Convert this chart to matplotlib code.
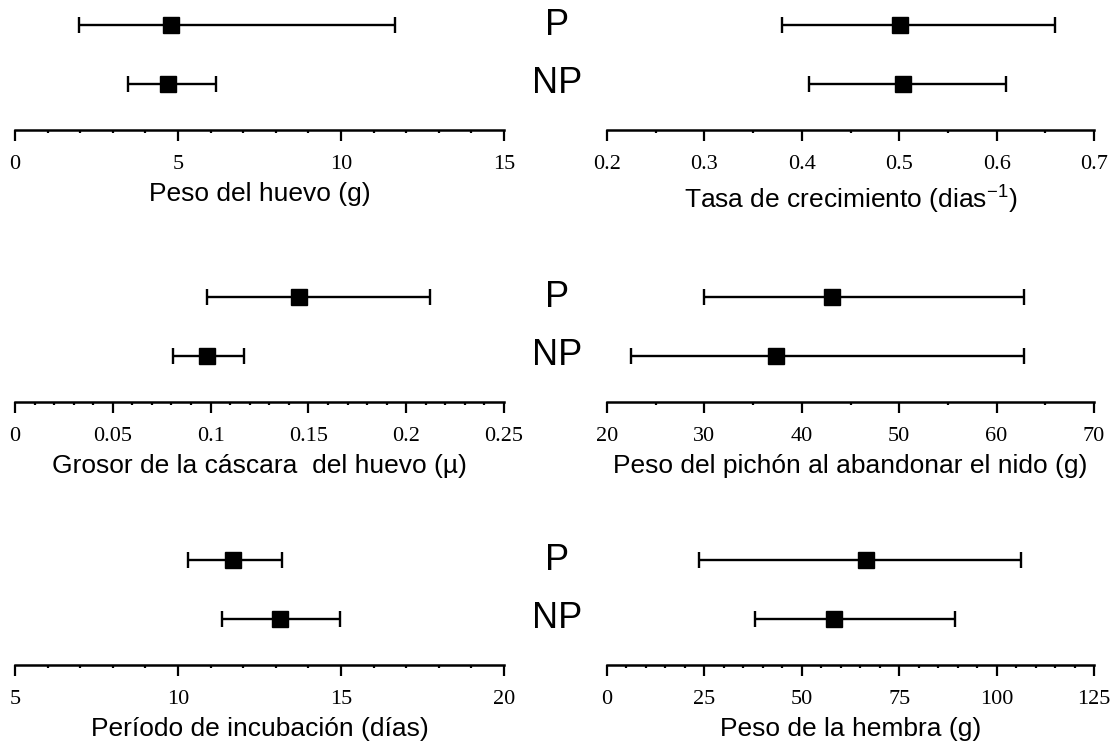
import matplotlib
matplotlib.use('Agg')
import matplotlib.pyplot as plt
from matplotlib.ticker import MultipleLocator, FormatStrFormatter

plt.rcParams['mathtext.fontset'] = 'custom'
plt.rcParams['mathtext.rm'] = 'Liberation Sans'

# panel order: top-left, top-right, mid-left, mid-right, bottom-left, bottom-right
labels = ['Peso del huevo (g)',
          r'Tasa de crecimiento (dias$^{\mathregular{-1}}$)',
          'Grosor de la cáscara  del huevo (µ)',
          'Peso del pichón al abandonar el nido (g)',
          'Período de incubación (días)',
          'Peso de la hembra (g)']
xlims = [(0, 15), (0.2, 0.7), (0, 0.25), (20, 70), (5, 20), (0, 125)]
major = [5, 0.1, 0.05, 10, 5, 25]
minor = [1, 0.05, 0.01, 5, 1, 5]

# P group: mean, lower end, upper end
p_mean = [4.78, 0.501, 0.145, 43.1, 11.70, 66.5]
p_lo = [1.97, 0.380, 0.098, 29.95, 10.31, 23.6]
p_hi = [11.66, 0.660, 0.212, 62.8, 13.18, 106.3]
# NP group
np_mean = [4.69, 0.504, 0.098, 37.4, 13.13, 58.3]
np_lo = [3.46, 0.407, 0.081, 22.5, 11.36, 38.1]
np_hi = [6.17, 0.610, 0.117, 62.8, 14.97, 89.4]

groups = ['P', 'NP']

W, H = 1117, 749
fig = plt.figure(figsize=(W / 100, H / 100), dpi=100)

col_left = [15, 607]
col_width = [489, 487]
row_axis_y = [130, 402, 665]
ax_h = 130

for i in range(6):
    r, c = divmod(i, 2)
    ax = fig.add_axes([col_left[c] / W, 1 - row_axis_y[r] / H,
                       col_width[c] / W, ax_h / H])
    ypos = [1.85, 0.82]
    means = [p_mean[i], np_mean[i]]
    los = [p_lo[i], np_lo[i]]
    his = [p_hi[i], np_hi[i]]
    for y, m, lo, hi in zip(ypos, means, los, his):
        ax.errorbar([m], [y], xerr=[[m - lo], [hi - m]], fmt='s', color='black',
                    ms=12, elinewidth=1.7, capsize=5.5, capthick=1.7, clip_on=False)
    ax.set_xlim(*xlims[i])
    ax.set_ylim(0, 2.3)
    for s in ['top', 'left', 'right']:
        ax.spines[s].set_visible(False)
    ax.spines['bottom'].set_linewidth(1.8)
    ax.set_yticks([])
    ax.xaxis.set_major_locator(MultipleLocator(major[i]))
    ax.xaxis.set_minor_locator(MultipleLocator(minor[i]))
    ax.xaxis.set_major_formatter(FormatStrFormatter('%g'))
    ax.tick_params(axis='x', which='major', direction='out', length=8, width=1.6,
                   pad=10, labelsize=16)
    ax.tick_params(axis='x', which='minor', direction='out', length=2.5, width=1.6)
    for t in ax.get_xticklabels():
        t.set_fontfamily('Liberation Serif')
    ax.set_xlabel(labels[i], fontsize=19, family='Liberation Sans', labelpad=6)
    ax.patch.set_visible(False)
    if c == 0:
        for y, g in zip(ypos, groups):
            ax.text((557 - col_left[0]) / col_width[0], y, g,
                    transform=ax.get_yaxis_transform(), ha='center', va='center',
                    fontsize=26, family='Liberation Sans')

fig.savefig('out.png', dpi=100)
